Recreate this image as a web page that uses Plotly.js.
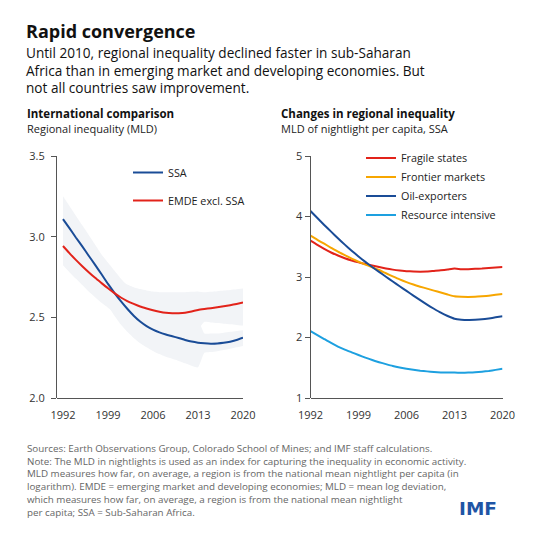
<!DOCTYPE html>
<html><head><meta charset="utf-8">
<script src="https://cdn.plot.ly/plotly-3.0.1.min.js"></script>
<style>html,body{margin:0;padding:0;background:#fff}#chart{width:538px;height:538px}</style>
</head><body><div id="chart"></div>
<script>
// ---- data ----
const years = [1992,1993,1994,1995,1996,1997,1998,1999,2000,2001,2002,2003,2004,2005,2006,2007,2008,2009,2010,2011,2012,2013,2014,2015,2016,2017,2018,2019,2020];
// Left panel: regional inequality (MLD)
const ssa = [3.109,3.053,2.995,2.94,2.882,2.825,2.767,2.707,2.652,2.60,2.553,2.51,2.474,2.446,2.424,2.407,2.394,2.383,2.372,2.36,2.35,2.343,2.339,2.337,2.338,2.342,2.349,2.36,2.374];
const ssaUpper = [3.25,3.19,3.13,3.07,3.01,2.95,2.89,2.84,2.79,2.74,2.695,2.655,2.62,2.59,2.57,2.55,2.535,2.525,2.51,2.50,2.49,2.485,2.40,2.40,2.40,2.405,2.41,2.415,2.42];
const ssaLower = [2.97,2.91,2.86,2.80,2.745,2.69,2.63,2.57,2.51,2.455,2.41,2.372,2.34,2.315,2.292,2.272,2.255,2.243,2.23,2.215,2.20,2.19,2.28,2.285,2.29,2.297,2.305,2.314,2.323];
const emde = [2.942,2.898,2.856,2.817,2.78,2.745,2.712,2.68,2.65,2.623,2.601,2.583,2.567,2.555,2.544,2.535,2.528,2.525,2.525,2.528,2.536,2.546,2.552,2.557,2.562,2.568,2.575,2.583,2.592];
const emdeUpper = [3.06,3.02,2.975,2.935,2.90,2.865,2.83,2.795,2.76,2.728,2.703,2.686,2.675,2.667,2.66,2.656,2.655,2.655,2.655,2.656,2.658,2.66,2.655,2.658,2.662,2.666,2.67,2.674,2.678];
const emdeLower = [2.823,2.78,2.74,2.70,2.66,2.625,2.59,2.56,2.53,2.505,2.48,2.465,2.45,2.44,2.43,2.42,2.41,2.405,2.405,2.408,2.415,2.425,2.472,2.468,2.465,2.461,2.457,2.453,2.449];
// Right panel: MLD of nightlight per capita, SSA
const fragile = [3.60,3.53,3.465,3.405,3.355,3.31,3.273,3.242,3.215,3.19,3.165,3.142,3.122,3.107,3.097,3.09,3.088,3.09,3.10,3.11,3.125,3.14,3.13,3.13,3.135,3.14,3.148,3.157,3.165];
const frontier = [3.683,3.615,3.55,3.483,3.418,3.36,3.303,3.252,3.205,3.162,3.115,3.062,3.01,2.96,2.915,2.875,2.84,2.808,2.775,2.743,2.71,2.68,2.672,2.67,2.672,2.68,2.69,2.705,2.719];
const oil = [4.09,3.975,3.86,3.75,3.64,3.535,3.435,3.34,3.25,3.165,3.085,3.005,2.925,2.847,2.77,2.693,2.617,2.543,2.475,2.41,2.355,2.31,2.295,2.29,2.292,2.30,2.315,2.333,2.35];
const resource = [2.107,2.04,1.975,1.91,1.85,1.80,1.755,1.71,1.667,1.627,1.592,1.56,1.53,1.505,1.485,1.468,1.452,1.44,1.43,1.423,1.42,1.42,1.418,1.42,1.425,1.435,1.448,1.465,1.485];
const xTicks = [1992,1999,2006,2013,2020];
const leftYTicks = [2.0,2.5,3.0,3.5];
const rightYTicks = [1,2,3,4,5];

// ---- styling ----
const FONT = 'Open Sans, sans-serif';
const BAND = '#f2f4f7';
const W = 538, H = 538;
const px = v => v / W;           // page x -> paper
const py = v => 1 - v / H;       // page y -> paper

function band(up, lo) {
  return [
    {x: years, y: up, xaxis: 'x', yaxis: 'y', mode: 'lines', line: {width: 0, color: BAND, shape: 'spline', smoothing: 0.5}, showlegend: false, hoverinfo: 'skip'},
    {x: years, y: lo, xaxis: 'x', yaxis: 'y', mode: 'lines', line: {width: 0, color: BAND, shape: 'spline', smoothing: 0.5}, fill: 'tonexty', fillcolor: BAND, showlegend: false, hoverinfo: 'skip'}
  ];
}
function line(y, name, color, xa, ya, lg) {
  return {x: years, y: y, name: name, legendgroup: name, xaxis: xa, yaxis: ya, mode: 'lines',
    line: {color: color, width: 2, shape: 'spline', smoothing: 0.5}, legend: lg};
}

const traces = [
  ...band(ssaUpper, ssaLower),
  ...band(emdeUpper, emdeLower),
  line(ssa, 'SSA', '#1a4c97', 'x', 'y', 'legend'),
  line(emde, 'EMDE excl. SSA', '#e2231a', 'x', 'y', 'legend'),
  line(fragile, 'Fragile states', '#e2231a', 'x2', 'y2', 'legend2'),
  line(frontier, 'Frontier markets', '#f7a600', 'x2', 'y2', 'legend2'),
  line(oil, 'Oil-exporters', '#1a4c97', 'x2', 'y2', 'legend2'),
  line(resource, 'Resource intensive', '#1da0e0', 'x2', 'y2', 'legend2')
];

const tickFont = {family: FONT, size: 11, color: '#333'};
const xBase = {tickvals: xTicks, ticktext: xTicks.map(String), showgrid: false, zeroline: false,
  showline: true, linecolor: '#555', linewidth: 1, ticks: '', tickfont: tickFont, fixedrange: true, anchor: 'free', ticklabelstandoff: 7};
const yBase = {showgrid: false, zeroline: false, showline: true, linecolor: '#555', linewidth: 1,
  ticks: 'outside', ticklen: 5, tickcolor: '#555', tickfont: tickFont, fixedrange: true};
const legFont = {family: FONT, size: 10.8, color: '#222'};

const layout = {
  width: W, height: H, margin: {l: 0, r: 0, t: 0, b: 0}, paper_bgcolor: '#fff', plot_bgcolor: '#fff',
  font: {family: FONT, color: '#222'},
  xaxis: Object.assign({}, xBase, {domain: [px(57), px(243)], range: [1991.07, 2020], position: py(398)}),
  yaxis: Object.assign({}, yBase, {domain: [py(398), py(156)], range: [2.0, 3.5], tickvals: leftYTicks, ticktext: leftYTicks.map(v => v.toFixed(1)), anchor: 'x', ticklabelstandoff: 4}),
  xaxis2: Object.assign({}, xBase, {domain: [px(310.5), px(502.5)], range: [1992, 2020], position: py(398)}),
  yaxis2: Object.assign({}, yBase, {domain: [py(398), py(156)], range: [1, 5], tickvals: rightYTicks, ticktext: rightYTicks.map(String), anchor: 'x2'}),
  legend: {x: px(128), y: py(158), xanchor: 'left', yanchor: 'top', bgcolor: 'rgba(0,0,0,0)', font: legFont, traceorder: 'grouped', tracegroupgap: 9, itemwidth: 30},
  legend2: {x: px(361), y: py(143.5), xanchor: 'left', yanchor: 'top', bgcolor: 'rgba(0,0,0,0)', font: legFont, traceorder: 'grouped', tracegroupgap: 0, itemwidth: 30},
  annotations: [
    {text: '<b>Rapid convergence</b>', x: px(25), y: py(18), xanchor: 'left', yanchor: 'top', borderpad: 0, xref: 'paper', yref: 'paper', showarrow: false, font: {family: FONT, size: 18, color: '#111'}},
    {text: 'Until 2010, regional inequality declined faster in sub-Saharan<br>Africa than in emerging market and developing economies. But<br>not all countries saw improvement.', x: px(25), y: py(42), xanchor: 'left', yanchor: 'top', borderpad: 0, align: 'left', xref: 'paper', yref: 'paper', showarrow: false, font: {family: FONT, size: 13.6, color: '#111'}},
    {text: '<b>International comparison</b>', x: px(25), y: py(104), xanchor: 'left', yanchor: 'top', xref: 'paper', yref: 'paper', showarrow: false, font: {family: FONT, size: 11.5, color: '#111'}},
    {text: 'Regional inequality (MLD)', x: px(25), y: py(119), xanchor: 'left', yanchor: 'top', xref: 'paper', yref: 'paper', showarrow: false, font: {family: FONT, size: 11, color: '#222'}},
    {text: '<b>Changes in regional inequality</b>', x: px(279), y: py(104), xanchor: 'left', yanchor: 'top', xref: 'paper', yref: 'paper', showarrow: false, font: {family: FONT, size: 11.5, color: '#111'}},
    {text: 'MLD of nightlight per capita, SSA', x: px(279), y: py(119), xanchor: 'left', yanchor: 'top', xref: 'paper', yref: 'paper', showarrow: false, font: {family: FONT, size: 11, color: '#222'}},
    {text: 'Sources: Earth Observations Group, Colorado School of Mines; and IMF staff calculations.<br>Note: The MLD in nightlights is used as an index for capturing the inequality in economic activity.<br>MLD measures how far, on average, a region is from the national mean nightlight per capita (in<br>logarithm). EMDE = emerging market and developing economies; MLD = mean log deviation,<br>which measures how far, on average, a region is from the national mean nightlight<br>per capita; SSA = Sub-Saharan Africa.',
      x: px(25), y: py(440), xanchor: 'left', yanchor: 'top', align: 'left', xref: 'paper', yref: 'paper', showarrow: false, font: {family: FONT, size: 9.8, color: '#666'}},
    {text: '<b>IMF</b>', x: px(499), y: py(496), xanchor: 'right', yanchor: 'top', xref: 'paper', yref: 'paper', showarrow: false, font: {family: 'DejaVu Sans, sans-serif', size: 18.5, color: '#1f55a5'}}
  ]
};

Plotly.newPlot('chart', traces, layout, {displayModeBar: false, staticPlot: true});
</script>
</body></html>
